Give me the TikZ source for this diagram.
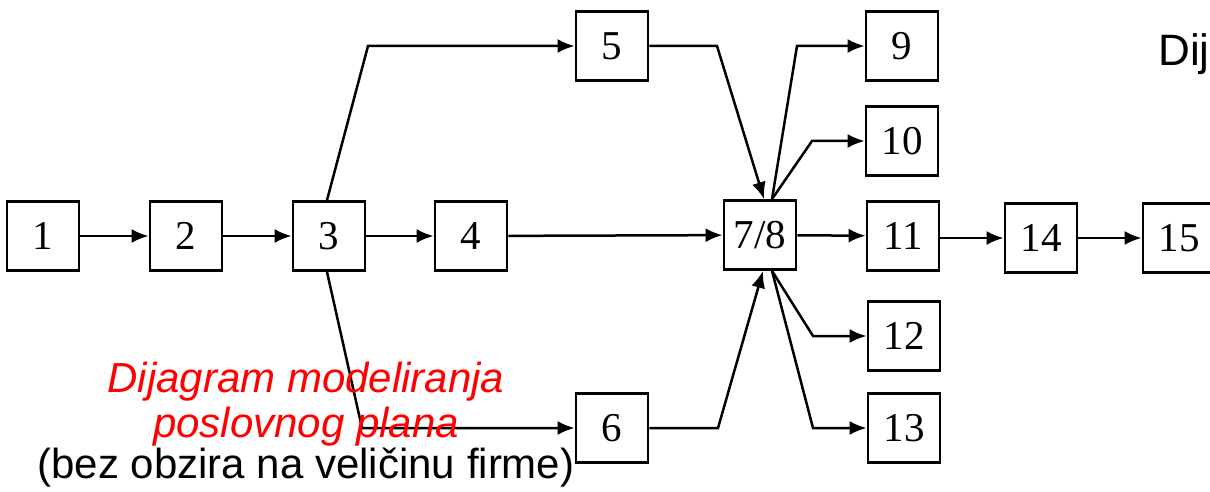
\documentclass[tikz,border=0pt]{standalone}
\usepackage{fontspec}
\setmainfont{Liberation Serif}
\newfontfamily\arial{Liberation Sans}
\usetikzlibrary{arrows.meta}
\begin{document}
\begin{tikzpicture}[x=0.5pt,y=-0.5pt,
  box/.style={draw, line width=1.4pt, minimum width=36pt, minimum height=34.5pt, inner sep=0pt, font=\fontsize{20.5}{24}\selectfont},
  conn/.style={line width=1.25pt, -{Latex[length=8.5pt,width=7pt]}},
  lbl/.style={font=\arial\fontsize{21}{24}\selectfont, inner sep=0pt}]
\useasboundingbox (0,0) rectangle (1210,492);
\node[box] (n1) at (43,236) {1};
\node[box] (n2) at (186,236) {2};
\node[box] (n3) at (329,236) {3};
\node[box] (n4) at (471,236) {4};
\node[box] (n5) at (612,46) {5};
\node[box] (n6) at (612,428) {6};
\node[box] (n78) at (760,235) {7/8};
\node[box] (n9) at (902,46) {9};
\node[box] (n10) at (902,141) {10};
\node[box] (n11) at (903,236) {11};
\node[box] (n12) at (904,336) {12};
\node[box] (n13) at (904,428) {13};
\node[box] (n14) at (1041,238) {14};
\node[box] (n15) at (1179,238) {15};
\coordinate (c35) at (368,46);
\coordinate (c36) at (362,428);
\coordinate (c5) at (717,46);
\coordinate (c6) at (718,428);
\coordinate (c9) at (797,46);
\coordinate (c10) at (812,141);
\coordinate (c12) at (813,336);
\coordinate (c13) at (813,428);
\draw[conn] (n1) -- (n2);
\draw[conn] (n2) -- (n3);
\draw[conn] (n3) -- (n4);
\draw[conn] (n4) -- (n78);
\draw[conn] ([xshift=-1pt]n3.north) -- (c35) -- (n5.west);
\draw[conn] ([xshift=-1pt]n3.south) -- (c36) -- (n6.west);
\draw[conn] (n5.east) -- (c5) -- ([xshift=2pt]n78.north);
\draw[conn] (n6.east) -- (c6) -- ([xshift=1.5pt]n78.south);
\draw[conn] ([xshift=6pt]n78.north) -- (c9) -- (n9.west);
\draw[conn] ([xshift=6pt]n78.north) -- (c10) -- (n10.west);
\draw[conn] (n78) -- (n11);
\draw[conn] ([xshift=6pt]n78.south) -- (c12) -- (n12.west);
\draw[conn] ([xshift=6pt]n78.south) -- (c13) -- (n13.west);
\draw[conn] ([yshift=-1pt]n11.east) -- (n14.west);
\draw[conn] (n14) -- (n15);
\node[lbl, red, anchor=base] (t1) at (306,392) {\itshape Dijagram modeliranja};
\node[lbl, red, anchor=base] (t2) at (306,437) {\itshape poslovnog plana};
\node[lbl, anchor=base] (t3) at (306,478) {(bez obzira na veličinu firme)};
\node[anchor=base west, inner sep=0pt, font=\arial\fontsize{22}{26}\selectfont] (t4) at (1158,66) {Dij};
\end{tikzpicture}
\end{document}
